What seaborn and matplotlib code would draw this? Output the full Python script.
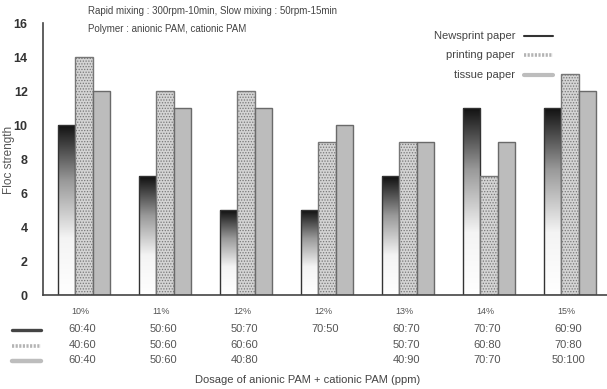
import numpy as np
import pandas as pd
import matplotlib
matplotlib.use("Agg")
import matplotlib.pyplot as plt
from matplotlib.lines import Line2D
import matplotlib.transforms as mtransforms
import seaborn as sns

# ---------------- data ----------------
dosages = ["10%", "11%", "12%", "12%", "13%", "14%", "15%"]
papers = ["Newsprint paper", "printing paper", "tissue paper"]
newsprint = [10, 7, 5, 5, 7, 11, 11]
printing = [14, 12, 12, 9, 9, 7, 13]
tissue = [12, 11, 11, 10, 9, 9, 12]
ratio_newsprint = ["60:40", "50:60", "50:70", "70:50", "60:70", "70:70", "60:90"]
ratio_printing = ["40:60", "50:60", "60:60", "", "50:70", "60:80", "70:80"]
ratio_tissue = ["60:40", "50:60", "40:80", "", "40:90", "70:70", "50:100"]
title_lines = ["Rapid mixing : 300rpm-10min, Slow mixing : 50rpm-15min",
               "Polymer : anionic PAM, cationic PAM"]

groups = [f"g{i}" for i in range(len(dosages))]
df = pd.DataFrame({
    "group": groups * 3,
    "paper": [papers[0]] * 7 + [papers[1]] * 7 + [papers[2]] * 7,
    "value": newsprint + printing + tissue,
})

# ---------------- figure ----------------
sns.set_style("white")
plt.rcParams["font.family"] = ["Liberation Sans", "DejaVu Sans"]
plt.rcParams["hatch.linewidth"] = 0.6

W, H = 607, 389
fig = plt.figure(figsize=(W / 100, H / 100), dpi=100)
ax = fig.add_axes([43 / W, 1 - 295 / H, 564 / W, 272 / H])

sns.barplot(data=df, x="group", y="value", hue="paper", order=groups,
            hue_order=papers, width=0.65, dodge=True, ax=ax,
            palette=["white", "#d4d4d4", "#bcbcbc"], legend=False,
            edgecolor="#555555", linewidth=1.0, saturation=1)

# gradient newsprint bars
grad = np.linspace(0, 1, 256).reshape(-1, 1)
cmap = matplotlib.colors.LinearSegmentedColormap.from_list(
    "g", ["#ffffff", "#f4f4f4", "#9a9a9a", "#101010"])
for patch in ax.containers[0]:
    x0 = patch.get_x()
    w, h = patch.get_width(), patch.get_height()
    im = ax.imshow(grad, extent=[x0, x0 + w, 0, h], origin="lower",
                   aspect="auto", cmap=cmap, zorder=patch.get_zorder() - 0.1,
                   interpolation="bilinear")
    im.set_clip_path(patch)
    patch.set_facecolor("none")
    patch.set_edgecolor("#333333")

for patch in ax.containers[1]:
    patch.set_hatch("......")
    patch.set_edgecolor("#777777")
for patch in ax.containers[2]:
    patch.set_edgecolor("#6a6a6a")

ax.set_xlim(-0.506, 6.457)
ax.set_ylim(0, 16)

# axes styling
for s in ["top", "right"]:
    ax.spines[s].set_visible(False)
for s in ["left", "bottom"]:
    ax.spines[s].set_color("#444444")
    ax.spines[s].set_linewidth(1.2)

ax.set_yticks(range(0, 17, 2))
ax.tick_params(axis="y", direction="in", length=3, width=1, color="#444444",
               labelsize=9, labelcolor="#333333", pad=11)
for t in ax.get_yticklabels():
    t.set_fontweight("bold")
ax.set_xticks([i + 0.5 for i in range(len(dosages) - 1)])
ax.set_xticklabels([])
ax.tick_params(axis="x", direction="in", length=2, width=1, color="#666666")
ax.set_xlabel("")
ax.set_ylabel("")

fig.text(9 / W, 1 - 160 / H, "Floc strength", rotation=90, ha="center",
         va="center", fontsize=8.5, color="#555555")

# labels under the axis
trans = mtransforms.blended_transform_factory(ax.transData, ax.transAxes)
def yfrac(py):
    return (295 - py) / 272

for i, d in enumerate(dosages):
    ax.text(i - 0.05, yfrac(311), d, transform=trans, ha="center", va="center",
            fontsize=6.5, color="#555555")
    for py, lab in zip([329, 345, 360],
                       [ratio_newsprint[i], ratio_printing[i], ratio_tissue[i]]):
        if lab:
            ax.text(i - 0.02, yfrac(py), lab, transform=trans, ha="center",
                    va="center", fontsize=8, color="#555555")

# left-side legend lines
for py, col, ls, lw in [(330, "#444444", "-", 2.4),
                        (346, "#b4b4b4", (0, (0.6, 0.4)), 2.6),
                        (361, "#bdbdbd", "-", 3.2)]:
    fig.add_artist(Line2D([12 / W, 41 / W], [1 - py / H, 1 - py / H],
                          color=col, linestyle=ls, linewidth=lw))

fig.text(308 / W, 1 - 380 / H, "Dosage of anionic PAM + cationic PAM (ppm)",
         ha="center", va="center", fontsize=8, color="#444444")

# title lines
fig.text(88 / W, 1 - 11 / H, title_lines[0], ha="left", va="center",
         fontsize=7, color="#444444")
fig.text(88 / W, 1 - 29 / H, title_lines[1], ha="left", va="center",
         fontsize=7, color="#444444")

# top-right legend
for py, lab, col, ls, lw in [(36, papers[0], "#333333", "-", 1.5),
                             (55, papers[1], "#b4b4b4", (0, (0.6, 0.4)), 2.6),
                             (75, papers[2], "#bdbdbd", "-", 3.0)]:
    fig.text(515 / W, 1 - py / H, lab, ha="right", va="center",
             fontsize=8, color="#444444")
    fig.add_artist(Line2D([524 / W, 553 / W], [1 - py / H, 1 - py / H],
                          color=col, linestyle=ls, linewidth=lw))

fig.savefig("out.png", dpi=100)
